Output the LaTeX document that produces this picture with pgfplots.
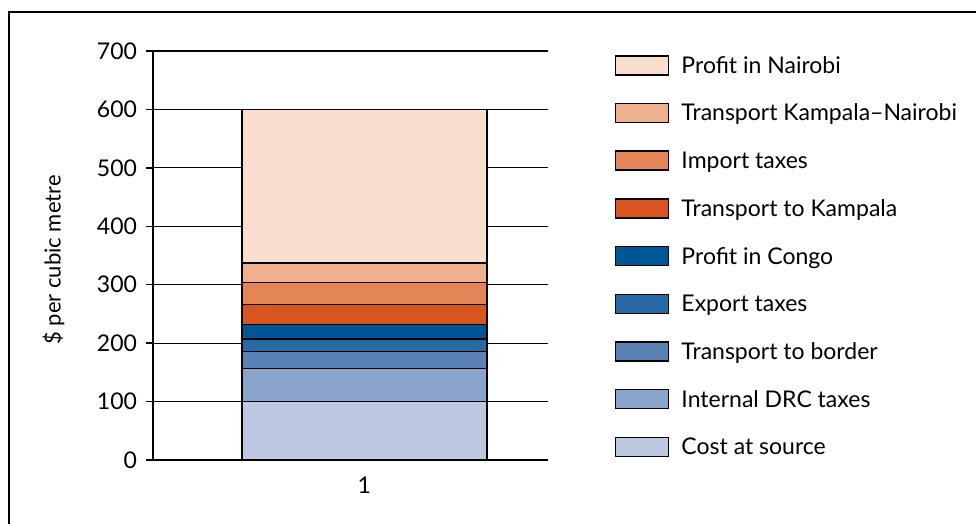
\documentclass[border=0pt]{standalone}
\usepackage{fontspec}
\setmainfont{Lato}
\usepackage{pgfplots}
\pgfplotsset{compat=1.18}
\definecolor{cSource}{HTML}{BDC9E1}
\definecolor{cDRC}{HTML}{8BA4CB}
\definecolor{cBorder}{HTML}{5B82B5}
\definecolor{cExport}{HTML}{2769A5}
\definecolor{cCongo}{HTML}{005596}
\definecolor{cKampala}{HTML}{D9541E}
\definecolor{cImport}{HTML}{E38556}
\definecolor{cKN}{HTML}{EFB08E}
\definecolor{cNairobi}{HTML}{F8DECC}
\begin{document}
\begin{tikzpicture}
\useasboundingbox (0,0) rectangle (488pt,262pt);
\draw[line width=0.75pt] (4.5pt,-2pt) -- (4.5pt,256pt) -- (490pt,256pt);
\begin{axis}[
  at={(76.5pt,32pt)}, anchor=south west,
  scale only axis, width=197.5pt, height=204.5pt,
  ybar stacked, bar width=122.5pt,
  xmin=0.465, xmax=1.465, ymin=0, ymax=700,
  axis x line*=bottom, axis y line*=left,
  ytick={0,100,...,700}, xtick={1},
  ymajorgrids, grid style={black, line width=0.6pt},
  axis line style={black, line width=0.75pt},
  y tick style={black, line width=0.75pt},
  x tick style={draw=none},
  tick align=outside, major tick length=3.5pt,
  /pgf/number format/assume math mode=true,
  tick label style={font=\fontsize{11.5}{13}\selectfont},
  yticklabel style={xshift=-1pt},
  xticklabel style={yshift=-1.5pt},
  ylabel={\$ per cubic metre},
  ylabel style={font=\fontsize{11}{13}\selectfont, at={(axis description cs:-0.252,0.489)}, anchor=center},
  legend image code/.code={\draw[#1, line width=0.75pt] (0pt,-4.75pt) rectangle (26.5pt,4.75pt);},
  reverse legend,
  legend cell align=left,
  legend style={at={(rel axis cs:1.1696,0.9902)}, anchor=north west, draw=none, fill=none,
    inner sep=0pt, outer sep=0pt, row sep=13.6pt, column sep=6pt,
    font=\fontsize{11.5}{13}\selectfont,
    nodes={inner sep=0pt, text height=8pt, text depth=0pt}},
  every axis plot/.append style={draw=black, line width=0.75pt},
]
\addplot[fill=cSource] coordinates {(1,100)};
\addplot[fill=cDRC] coordinates {(1,57)};
\addplot[fill=cBorder] coordinates {(1,29)};
\addplot[fill=cExport] coordinates {(1,21)};
\addplot[fill=cCongo] coordinates {(1,25)};
\addplot[fill=cKampala] coordinates {(1,34)};
\addplot[fill=cImport] coordinates {(1,38)};
\addplot[fill=cKN] coordinates {(1,33)};
\addplot[fill=cNairobi] coordinates {(1,263)};
\legend{Cost at source, Internal DRC taxes, Transport to border, Export taxes, Profit in Congo, Transport to Kampala, Import taxes, Transport Kampala--Nairobi, Profit in Nairobi}
\end{axis}
\end{tikzpicture}
\end{document}
